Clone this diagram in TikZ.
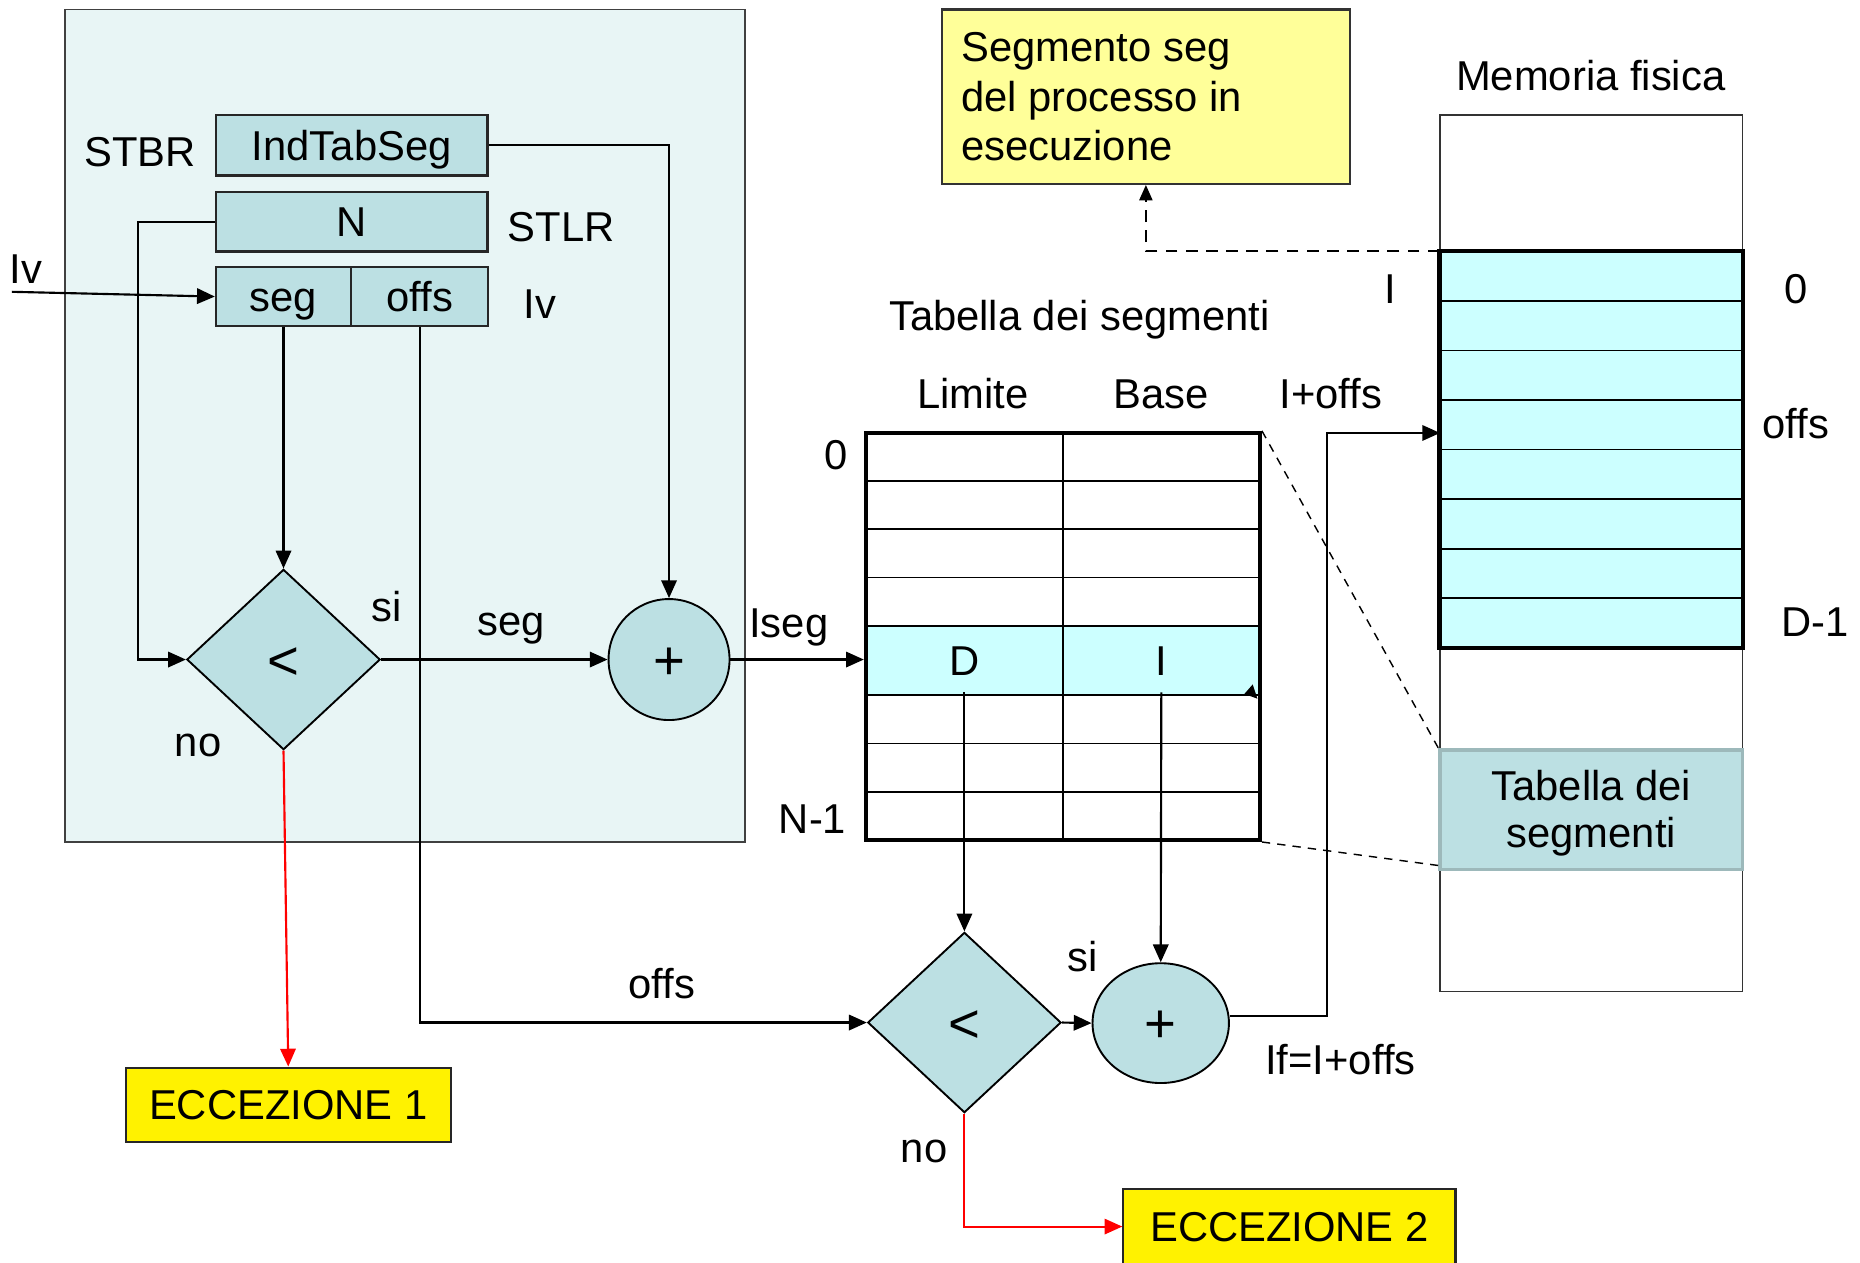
\documentclass[tikz,border=0pt]{standalone}
\usepackage{fontspec}
\setmainfont{Liberation Sans}
\usetikzlibrary{arrows.meta,shapes.geometric,calc}
\definecolor{panelbg}{HTML}{E8F5F5}
\definecolor{boxbg}{HTML}{BCE0E3}
\definecolor{hl}{HTML}{CCFFFF}
\definecolor{paleyel}{HTML}{FFFF99}
\definecolor{tabedge}{HTML}{9DB9BB}
\begin{document}
\begin{tikzpicture}[x=0.5pt,y=-0.5pt,
  font=\fontsize{17.6}{21}\selectfont,
  every node/.style={inner sep=0pt, text height=12.6pt, text depth=0pt},
  regbox/.style={draw=black!85, line width=0.9pt, fill=boxbg},
  opsym/.style={font=\fontsize{23}{25}\selectfont, text height=16.5pt},
  decbox/.style={diamond, draw=black, line width=0.8pt, fill=boxbg, minimum width=81.5pt, minimum height=76pt, opsym},
  arr/.style={draw=black, line width=0.9pt, -{Triangle[length=7.5pt,width=6.5pt]}},
  redarr/.style={draw=red, line width=0.9pt, -{Triangle[length=7.5pt,width=6.5pt]}},
  thinline/.style={line width=0.75pt},
  thickline/.style={line width=1.8pt},
  exbox/.style={draw=black!85, line width=0.9pt, fill=yellow},
]
\useasboundingbox (0,0) rectangle (1568,1064);
\fill[white] (0,0) rectangle (1568,1064);

% CPU panel
\filldraw[fill=panelbg, draw=black!75, line width=0.8pt] (55,8) rectangle (628,710);

% registers
\node[regbox, minimum width=114.5pt, minimum height=25.5pt] (indtab) at (296.5,122.5) {IndTabSeg};
\node[regbox, minimum width=114.5pt, minimum height=25pt] (nbox) at (296.5,187) {N};
\node[regbox, minimum width=57pt, minimum height=25pt] (segbox) at (239,250) {seg};
\node[regbox, minimum width=57.5pt, minimum height=25pt] (offsbox) at (353.75,250) {offs};

\node (stbr) at (118,128) {STBR};
\node (stlr) at (473,191) {STLR};
\node (lvr) at (455,256) {Iv};
\node (lvl) at (22,226) {Iv};

% comparator 1 and adder 1
\node[decbox] (d1) at (239,556) {<};
\node[circle, draw=black, line width=0.8pt, fill=boxbg, minimum size=51pt, opsym] (c1) at (564,556) {+};
\node (si1) at (326,511) {si};
\node (no1) at (167,625) {no};
\node (seglbl) at (431,523) {seg};
\node (iseg) at (665,525) {Iseg};

% exceptions
\node[exbox, minimum width=137pt, minimum height=31.5pt] (ecc1) at (243,931.5) {ECCEZIONE 1};
\node[exbox, minimum width=140pt, minimum height=32pt] (ecc2) at (1087,1034) {ECCEZIONE 2};

% segment table
\node[fill=hl, minimum width=166pt, minimum height=29.15pt] (drow) at (896,557.05) {};
\foreach \yy in {405.6,446.2,486.8,527.9,586.2,626.8,667.4}
  \draw[thinline] (730,\yy) -- (1062,\yy);
\draw[thinline] (896,365) -- (896,708);
\node[draw=black, thickline, minimum width=166pt, minimum height=171.5pt] (tab) at (896,536.5) {};
\node (dcell) at (813,557) {D};
\node (icell) at (979,557) {I};
\fill (1049,585) -- (1056,577) -- (1060,589) -- cycle;

\node (tabtitle) at (910,266) {Tabella dei segmenti};
\node (limite) at (820,332) {Limite};
\node (base) at (979,332) {Base};
\node (ioffs) at (1122,332) {I+offs};
\node (zero1) at (705,383) {0};
\node (nm1) at (685,690) {N-1};

% comparator 2 and adder 2
\node[decbox] (d2) at (813,862) {<};
\node[ellipse, draw=black, line width=0.8pt, fill=boxbg, minimum width=57.5pt, minimum height=50.5pt, opsym] (c2) at (978.5,862.5) {+};
\node (si2) at (913,806) {si};
\node (no2) at (779,967) {no};
\node (offslbl) at (558,829) {offs};
\node (iflbl) at (1130,893) {If=I+offs};

% physical memory
\node (memtitle) at (1341,64) {Memoria fisica};
\node[draw=black!80, line width=0.6pt, minimum width=127.5pt, minimum height=369.5pt] (mem) at (1341.5,466.5) {};
\node[fill=hl, minimum width=127.5pt, minimum height=167pt] (mseg) at (1341.5,379) {};
\foreach \yy in {253.75,295.5,337.25,379,420.75,462.5,504.25}
  \draw[thinline] (1214,\yy) -- (1469,\yy);
\draw[thickline] (mseg.north west) rectangle (mseg.south east);
\node (m0) at (1514,243) {0};
\node (moffs) at (1514,357) {offs};
\node (md1) at (1530,524) {D-1};
\node (mi) at (1172,243) {I};

\node[draw=tabedge, line width=1.6pt, fill=boxbg, minimum width=127.5pt, minimum height=50.5pt] (tabbox) at (1341.5,682.5) {};
\node (tb1) at (1341.5,662) {Tabella dei};
\node (tb2) at (1341.5,702) {segmenti};

% process segment note
\node[draw=black!80, line width=0.9pt, fill=paleyel, minimum width=172pt, minimum height=73.5pt] (yel) at (966,81.5) {};
\node[anchor=west] (yl1) at (810,39) {Segmento seg};
\node[anchor=west] (yl2) at (810,81.5) {del processo in};
\node[anchor=west] (yl3) at (810,123) {esecuzione};

% connectors
\coordinate (lvin) at (10,246);
\draw[arr] (lvin) -- (segbox.west);
\draw[arr] (nbox.west) -- ++(-65,0) |- (d1.west);
\draw[arr] (segbox.south) -- (d1.north);
\draw[arr] (indtab.east) -| (c1.north);
\draw[arr] (d1.east) -- (c1.west);
\draw[arr] (offsbox.south) |- (d2.west);
\draw[redarr] (d1.south) -- (ecc1.north);
\draw[arr] (c1.east) -- (c1.east -| tab.west);
\draw[arr] ($(dcell.center |- drow.south)+(0,-3)$) -- (d2.north);
\draw[arr] ($(icell.center |- drow.south)+(0,-3)$) -- (c2.north);
\draw[arr] (d2.east) -- (c2.west);
\coordinate (memin) at (1214,365);
\draw[arr] ([yshift=3pt]c2.east) -- ++(82,0) |- (memin);
\draw[redarr] (d2.south) |- (ecc2.west);
\draw[line width=0.9pt, dash pattern=on 5pt off 3.5pt, -{Triangle[length=6.5pt,width=5.5pt]}] (mseg.north west) -| (yel.south);
\draw[line width=0.6pt, dash pattern=on 3.5pt off 3pt] (tab.north east) -- (tabbox.north west);
\draw[line width=0.6pt, dash pattern=on 3.5pt off 3pt] (tab.south east) -- ([yshift=2.5pt]tabbox.south west);
\end{tikzpicture}
\end{document}
